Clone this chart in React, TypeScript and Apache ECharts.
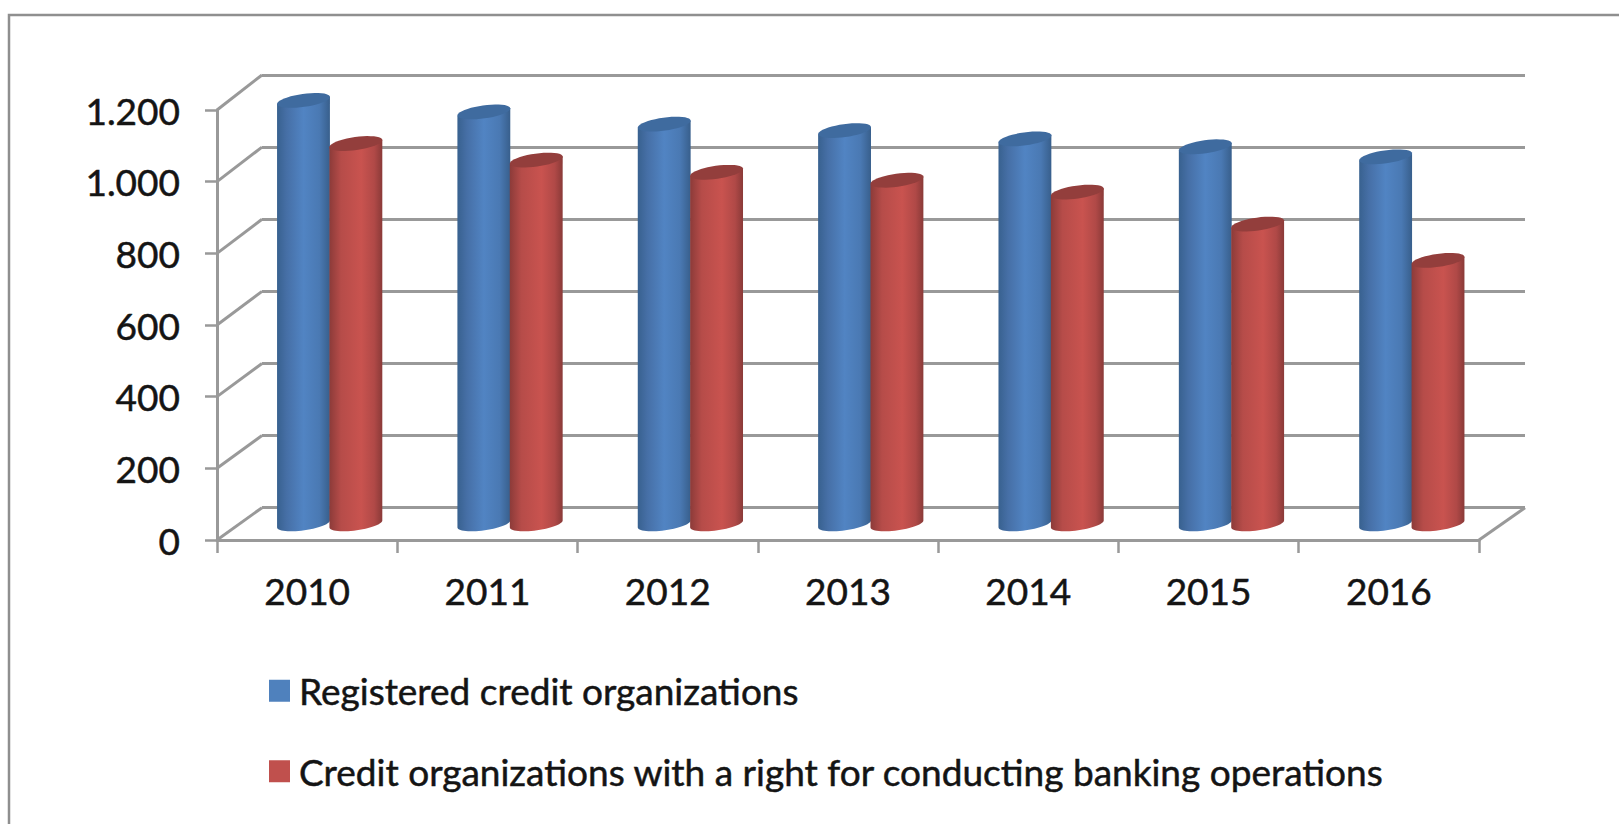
import React, { useEffect, useRef } from "react";
import * as echarts from "echarts";

const years = ["2010", "2011", "2012", "2013", "2014", "2015", "2016"];
const registeredName = "Registered credit organizations";
const licensedName = "Credit organizations with a right for conducting banking operations";
const registered = [1178, 1146, 1112, 1094, 1071, 1049, 1021];
const licensed = [1058, 1012, 978, 956, 923, 834, 733];
const yTicks = [0, 200, 400, 600, 800, 1000, 1200];

const W = 1619;
const H = 824;
const FRONT = { left: 217, right: 1479, top: 110, bottom: 540 };
const BACK = { left: 262, right: 1525, top: 75, bottom: 507.7 };
const GRID_COLOR = "#999999";
const LINE_W = 3;
const TEXT_COLOR = "#141414";
const FONT = "Lato";
const TEXT_EDGE = { textBorderColor: TEXT_COLOR, textBorderWidth: 0.5 };

const gridBox = (g: typeof FRONT) => ({
  left: g.left,
  width: g.right - g.left,
  top: g.top,
  height: g.bottom - g.top,
});
const midBox = {
  left: (FRONT.left + BACK.left) / 2,
  right: (FRONT.right + BACK.right) / 2,
  top: (FRONT.top + BACK.top) / 2,
  bottom: (FRONT.bottom + BACK.bottom) / 2,
};

const hGrad = (stops: [number, string][]) =>
  new echarts.graphic.LinearGradient(
    0,
    0,
    1,
    0,
    stops.map(([offset, color]) => ({ offset, color }))
  );

const TILT = (8 * Math.PI) / 180;
const RY = 6.5;

function ellipsePts(cx: number, cy: number, rx: number, from: number, to: number, n: number) {
  const pts: number[][] = [];
  for (let i = 0; i <= n; i++) {
    const a = from + ((to - from) * i) / n;
    const ex = rx * Math.cos(a);
    const ey = RY * Math.sin(a);
    pts.push([cx + ex * Math.cos(TILT) + ey * Math.sin(TILT), cy - ex * Math.sin(TILT) + ey * Math.cos(TILT)]);
  }
  return pts;
}

function cylinderSeries(
  name: string,
  values: number[],
  side: number,
  color: string,
  top: string,
  stops: [number, string][]
) {
  return {
    type: "custom",
    name,
    xAxisIndex: 2,
    yAxisIndex: 2,
    z: side < 0 ? 5 : 6,
    clip: false,
    itemStyle: { color },
    encode: { x: 0, y: 1 },
    data: values.map((v, i) => [i, v]),
    renderItem: (_: any, api: any) => {
      const [cx0, yTop] = api.coord([api.value(0), api.value(1)]);
      const [, yBase] = api.coord([api.value(0), 0]);
      const band = api.size([1, 0])[0];
      const w = band * 0.296;
      const rx = w / 2;
      const cx = cx0 + (side * w) / 2 - side * 0.5;
      const dx = rx * Math.cos(TILT);
      const dy = rx * Math.sin(TILT);
      const body = [
        [cx - dx, yTop + dy],
        [cx + dx, yTop - dy],
        ...ellipsePts(cx, yBase, rx, 0, Math.PI, 28),
      ];
      return {
        type: "group",
        children: [
          { type: "polygon", shape: { points: body }, style: { fill: hGrad(stops) } },
          { type: "polygon", shape: { points: ellipsePts(cx, yTop, rx, 0, Math.PI * 2, 40) }, style: { fill: top } },
        ],
      };
    },
  };
}

export default function App() {
  const ref = useRef<HTMLDivElement>(null);
  useEffect(() => {
    if (!ref.current) return;
    const chart = echarts.init(ref.current, undefined, { renderer: "svg", width: W, height: H });
    const axisStyle = { color: GRID_COLOR, width: LINE_W };
    const hiddenX = { type: "category", data: years, show: false };
    const hiddenY = { type: "value", min: 0, max: 1200, interval: 200, show: false };
    chart.setOption({
      animation: false,
      backgroundColor: "#ffffff",
      grid: [FRONT, BACK, midBox].map((g) => ({ ...gridBox(g), containLabel: false })),
      xAxis: [
        {
          gridIndex: 0,
          type: "category",
          data: years,
          axisLine: { lineStyle: axisStyle },
          axisTick: { show: true, length: 13, lineStyle: { color: GRID_COLOR, width: 2.5 } },
          axisLabel: { color: TEXT_COLOR, fontFamily: FONT, fontSize: 37, margin: 32, ...TEXT_EDGE },
        },
        {
          gridIndex: 1,
          type: "category",
          data: years,
          axisLine: { show: false },
          axisTick: { show: false },
          axisLabel: { show: false },
        },
        { gridIndex: 2, ...hiddenX },
      ],
      yAxis: [
        {
          gridIndex: 0,
          type: "value",
          min: 0,
          max: 1200,
          interval: 200,
          splitLine: { show: false },
          axisLine: { show: true, lineStyle: axisStyle },
          axisTick: { show: true, length: 12, lineStyle: { color: GRID_COLOR, width: 2.5 } },
          axisLabel: {
            color: TEXT_COLOR,
            fontFamily: FONT,
            fontSize: 37,
            margin: 37,
            padding: [0, 0, 2, 0],
            ...TEXT_EDGE,
            formatter: (v: number) => v.toLocaleString("de-DE"),
          },
        },
        {
          gridIndex: 1,
          type: "value",
          min: 0,
          max: 1200,
          interval: 200,
          axisLine: { show: false },
          axisTick: { show: false },
          axisLabel: { show: false },
          splitLine: { show: true, lineStyle: { color: GRID_COLOR, width: LINE_W } },
        },
        { gridIndex: 2, ...hiddenY },
      ],
      legend: {
        orient: "vertical",
        left: 264,
        top: 667,
        itemWidth: 21,
        itemHeight: 22,
        itemGap: 43,
        icon: "rect",
        selectedMode: false,
        data: [registeredName, licensedName],
        textStyle: { color: TEXT_COLOR, fontFamily: FONT, fontSize: 37, padding: [0, 0, 0, 4], ...TEXT_EDGE },
      },
      graphic: [
        {
          type: "polyline",
          shape: { points: [[9, H], [9, 15], [W, 15]] },
          style: { stroke: "#8f8f8f", lineWidth: 2.5, fill: "none" },
          silent: true,
        },
      ],
      series: [
        {
          type: "custom",
          name: "depth",
          xAxisIndex: 0,
          yAxisIndex: 0,
          z: 3,
          clip: false,
          encode: { y: 0 },
          data: yTicks.map((v) => [v]),
          renderItem: (_: any, api: any) => {
            const v = api.value(0);
            const [x0, y] = api.coord([0, v]);
            const band = api.size([1, 0])[0];
            const left = x0 - band / 2;
            const frac = v / 1200;
            const yBack = BACK.bottom + (BACK.top - BACK.bottom) * frac;
            const stroke = { stroke: GRID_COLOR, lineWidth: LINE_W };
            const children: any[] = [
              { type: "line", shape: { x1: left, y1: y, x2: BACK.left, y2: yBack }, style: stroke },
            ];
            if (v === 0) {
              const right = left + band * years.length;
              children.push({ type: "line", shape: { x1: right, y1: y, x2: BACK.right, y2: yBack }, style: stroke });
            }
            return { type: "group", children };
          },
        },
        cylinderSeries(registeredName, registered, -1, "#4f81bd", "#3f6b9f", [
          [0, "#38618f"],
          [0.18, "#466fa6"],
          [0.5, "#5184c3"],
          [0.8, "#4a79b3"],
          [1, "#385f8c"],
        ]),
        cylinderSeries(licensedName, licensed, 1, "#c0504d", "#933e3c", [
          [0, "#8c3b39"],
          [0.22, "#b64c49"],
          [0.6, "#c9534f"],
          [0.85, "#b04947"],
          [1, "#8a3a38"],
        ]),
      ],
    });
    return () => chart.dispose();
  }, []);
  return <div ref={ref} style={{ position: "fixed", left: 0, top: 0, width: W, height: H }} />;
}
